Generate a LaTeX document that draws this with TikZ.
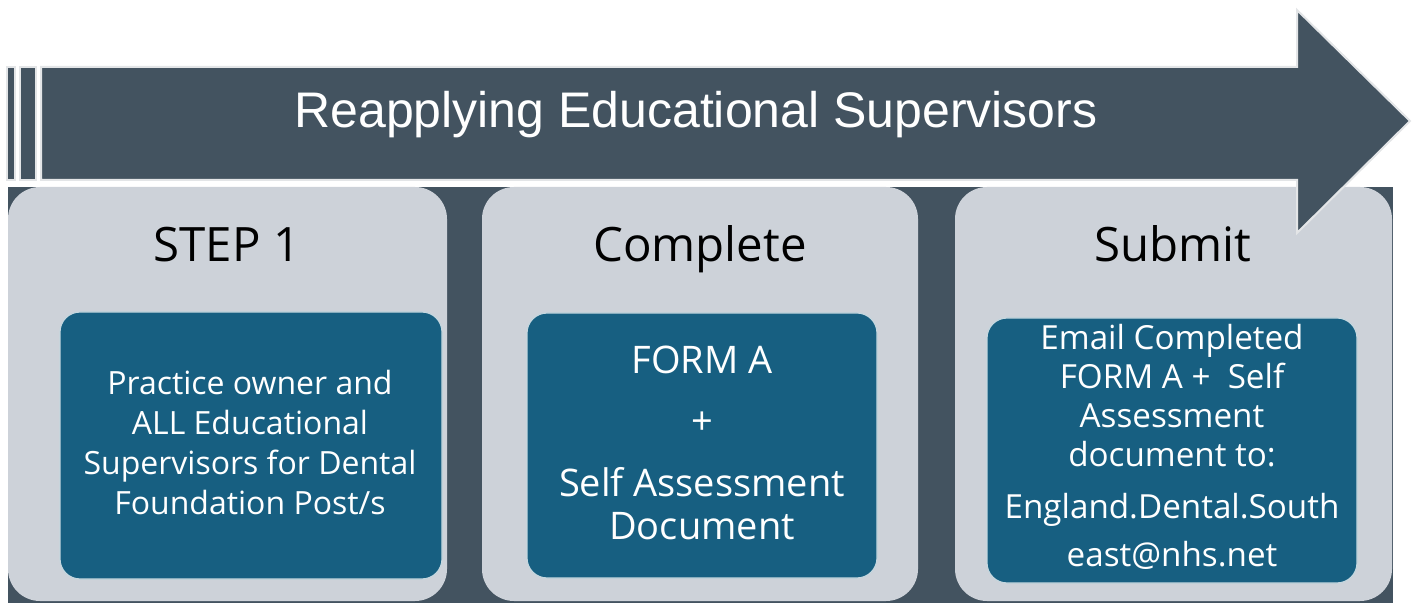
\documentclass[tikz,border=0pt]{standalone}
\usepackage{fontspec}
\setmainfont{Open Sans}
\newfontfamily\titlefont{Liberation Sans}
\definecolor{arrowslate}{HTML}{435360}
\definecolor{panelgray}{HTML}{CDD2D9}
\definecolor{stepblue}{HTML}{175F81}
\begin{document}
\begin{tikzpicture}[x=0.5pt,y=-0.5pt,
  panel/.style={fill=panelgray,rounded corners=16pt},
  stepbox/.style={fill=stepblue,draw=white!75!stepblue,line width=0.6pt,rounded corners=10pt},
  steptitle/.style={font=\fontsize{23.7}{28}\selectfont,text=black,inner sep=0pt,anchor=base},
  steptext/.style={font=\fontsize{16}{20}\selectfont,text=white,align=center,inner sep=0pt},
  arrowpart/.style={fill=arrowslate,draw=white!85!arrowslate,line width=1pt}]
\useasboundingbox (0,0) rectangle (1418,603);

% background band and the three steps
\fill[arrowslate] (8,187) rectangle (1393,603);
\fill[panel] (8,187) rectangle (447,601);
\fill[panel] (482,187) rectangle (918,601);
\fill[panel] (955,187) rectangle (1392,601);
\draw[stepbox] (60,312) rectangle (442,579);
\draw[stepbox] (527,313) rectangle (877,578);
\draw[stepbox] (987,318) rectangle (1357,583);

\node[steptitle] (title1) at (227,262) {STEP 1};
\node[steptitle] (title2) at (700,262) {Complete};
\node[steptitle] (title3) at (1173,262) {Submit};

\node[steptext] (text1) at (250,443) {Practice owner and\\ALL Educational\\Supervisors for Dental\\Foundation Post/s};
\node[steptext,font=\fontsize{19}{21.5}\selectfont] (text2) at (702,443) {FORM A\\[9pt]+\\[9.5pt]Self Assessment\\Document};
\node[steptext,font=\fontsize{16.6}{19.5}\selectfont] (text3) at (1172,447) {Email Completed\\FORM A + \ Self\\Assessment\\document to:\\[6.5pt]England.Dental.South\\[4.5pt]east@nhs.net};

% the big arrow on top
\draw[arrowpart] (7,67) rectangle (15,180);
\draw[arrowpart] (20,67) rectangle (36,180);
\draw[arrowpart] (41,67) -- (1297,67) -- (1297,10) -- (1410,121) -- (1297,233) -- (1297,180) -- (41,180) -- cycle;
\node[font=\titlefont\fontsize{25}{30}\selectfont,text=white,inner sep=0pt,anchor=base] (banner) at (696,128) {Reapplying Educational Supervisors};
\end{tikzpicture}
\end{document}
